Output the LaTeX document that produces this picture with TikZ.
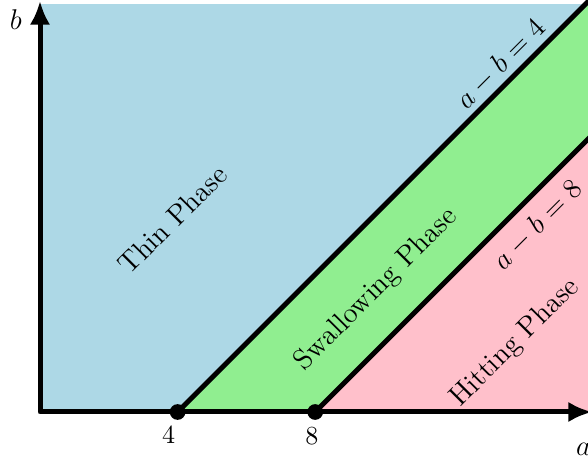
\documentclass[tikz,border=0pt]{standalone}
\usetikzlibrary{arrows.meta}
\definecolor{thinblue}{RGB}{173,216,230}
\definecolor{swalgreen}{RGB}{144,238,144}
\definecolor{hitpink}{RGB}{255,192,203}
\tikzset{
  bdry/.style={line width=2.1pt, line cap=round, line join=round},
  axisline/.style={line width=2.1pt, line join=round, {Latex[length=10pt,width=8.6pt]}-{Latex[length=10pt,width=8.6pt]}},
  phase/.style={font=\large, rotate=45, inner sep=0pt},
  dotmark/.style={circle, fill=black, minimum size=6.6pt, inner sep=0pt},
  ticklab/.style={inner sep=0pt},
}
\begin{document}
\begin{tikzpicture}[x=0.508cm,y=0.508cm]
\useasboundingbox (-1.163,-1.483) rectangle (15.93,11.977);
\clip (-1.163,-1.483) rectangle (15.93,11.977);
% regions
\fill[thinblue] (0,0) rectangle (17,11.86);
\fill[swalgreen] (4,0) -- (8,0) -- (19.86,11.86) -- (15.86,11.86) -- cycle;
\fill[hitpink] (8,0) -- (17,0) -- (17,9) -- cycle;
% boundary lines
\coordinate (p4) at (4,0);
\coordinate (p8) at (8,0);
\coordinate (e4) at (16.1,12.1);
\coordinate (e8) at (17,9);
\draw[bdry] (p4) -- (e4);
\draw[bdry] (p8) -- (e8);
% axes
\coordinate (O) at (0,0);
\coordinate (btip) at (0,11.95);
\coordinate (atip) at (16.05,0);
\draw[axisline] (btip) -- (O) -- (atip);
% dots
\node[dotmark] (d4) at (p4) {};
\node[dotmark] (d8) at (p8) {};
% labels
\node[ticklab, font=\fontsize{11}{13}\selectfont] (l4) at (3.74,-0.68) {$4$};
\node[ticklab, font=\fontsize{11}{13}\selectfont] (l8) at (7.9,-0.70) {$8$};
\node[ticklab, font=\large] (lb) at (-0.70,11.4) {$b$};
\node[ticklab, font=\large] (la) at (15.8,-1.1) {$a$};
\node[phase] (thin) at (3.85,5.6) {Thin Phase};
\node[phase] (swal) at (9.78,3.56) {Swallowing Phase};
\node[phase] (hit) at (13.81,2.0) {Hitting Phase};
\node[phase] (eq4) at (13.39,10.12) {$a-b=4$};
\node[phase] (eq8) at (14.46,5.44) {$a-b=8$};
\end{tikzpicture}
\end{document}
